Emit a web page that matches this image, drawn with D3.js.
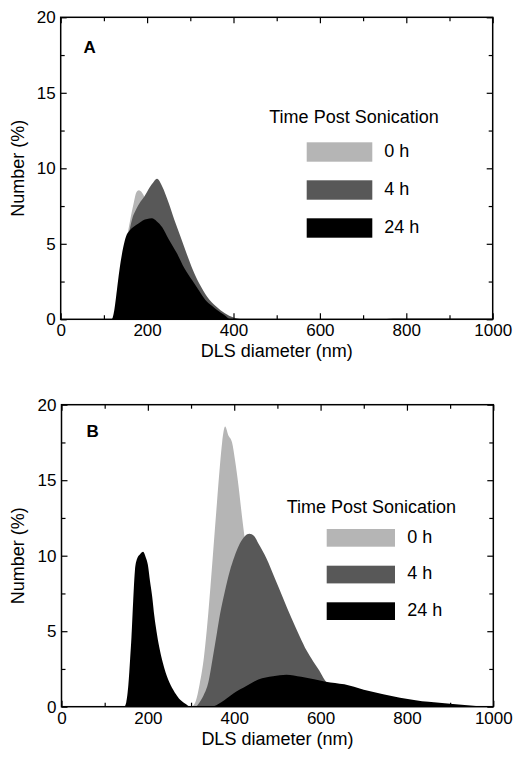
<!DOCTYPE html>
<html>
<head>
<meta charset="utf-8">
<script src="https://cdn.jsdelivr.net/npm/d3@7"></script>
<style>
  html, body { margin: 0; padding: 0; background: #fff; }
  svg { display: block; }
  text { font-family: "Liberation Sans", Arial, Helvetica, sans-serif; fill: #000; }
</style>
</head>
<body>
<svg id="chart" width="522" height="761"></svg>
<script>
// ---------------- DATA ----------------
const xMajorTicks = [0, 200, 400, 600, 800, 1000];
const xMinorTicks = [100, 300, 500, 700, 900];
const yMajorTicks = [0, 5, 10, 15, 20];
const yMinorTicks = [2.5, 7.5, 12.5, 17.5];
const seriesNames = ["0 h", "4 h", "24 h"];
const seriesColors = ["#b5b5b5", "#585858", "#000000"];
const legendTitle = "Time Post Sonication";
const xTitle = "DLS diameter (nm)";
const yTitle = "Number (%)";
const panelLabels = ["A", "B"];

// Panel A: [diameter nm, number %]
const panelA_0h = [[0,0],[120,0],[130,0.8],[140,3.3],[150,4.9],[161,6.6],[169,7.7],[175,8.4],[181,8.55],[188,8.4],[194,8.1],[205,7.5],[220,6.5],[240,5.0],[260,3.5],[280,2.2],[300,1.3],[330,0.5],[360,0.15],[400,0],[750,0],[770,0.08],[1000,0.08]];
const panelA_4h = [[0,0],[125,0],[135,0.8],[145,3.0],[155,5.2],[165,6.6],[175,7.3],[185,7.8],[194,8.15],[205,8.7],[215,9.1],[223,9.3],[235,8.8],[250,7.7],[263,6.6],[277,5.5],[292,4.3],[306,3.26],[322,2.3],[339,1.5],[360,0.85],[380,0.4],[400,0.12],[425,0],[1000,0]];
const panelA_24h = [[0,0],[118,0],[124,0.6],[130,1.9],[136,3.26],[145,4.8],[151,5.47],[160,5.9],[169,6.13],[180,6.35],[190,6.55],[200,6.65],[211,6.69],[222,6.5],[235,6.1],[250,5.3],[269,4.37],[286,3.4],[304,2.6],[320,1.9],[335,1.28],[350,0.9],[362,0.62],[378,0.3],[393,0],[1000,0]];

// Panel B
const panelB_0h = [[0,0],[300,0],[310,0.3],[320,1.5],[330,3.3],[340,6.2],[350,9.8],[360,13.5],[367,16.0],[372,17.5],[379,18.55],[386,18.0],[395,17.5],[402,16.3],[410,14.6],[418,12.6],[425,11.0],[440,7.5],[460,4],[480,1.5],[500,0.3],[520,0],[1000,0]];
const panelB_4h = [[0,0],[310,0],[320,0.3],[330,0.8],[340,1.6],[350,3.2],[360,4.9],[367,6.1],[378,7.6],[390,9.0],[400,9.9],[413,10.8],[425,11.3],[435,11.45],[446,11.3],[456,10.8],[475,9.8],[494,8.5],[513,7.2],[532,5.9],[552,4.64],[568,3.7],[583,3.0],[597,2.4],[610,1.75],[620,1.4],[640,0.8],[665,0.25],[690,0],[1000,0]];
const panelB_24h = [[0,0],[145,0],[150,0.3],[155,1.5],[159,3.2],[162,4.6],[166,7.0],[170,9.0],[175,9.8],[182,10.1],[189,10.26],[195,9.9],[200,9.4],[205,8.3],[210,7.3],[215,6.0],[220,5.0],[226,4.0],[235,2.87],[247,1.8],[259,1.1],[272,0.55],[286,0.22],[300,0],[347,0],[370,0.3],[398,0.88],[430,1.4],[456,1.8],[490,2.02],[521,2.12],[555,1.98],[585,1.82],[612,1.66],[655,1.48],[700,1.12],[745,0.82],[784,0.6],[820,0.43],[850,0.32],[900,0.2],[940,0.1],[980,0.02],[1000,0]];

// ---------------- LAYOUT ----------------
const panels = [
  { label: panelLabels[0], series: [panelA_0h, panelA_4h, panelA_24h],
    left: 60.7, right: 492.7, top: 17.3, bottom: 319.3,
    labelPos: [83.5, 52.7],
    legend: { titleX: 269.3, titleY: 123.3, boxX: 306.7, boxW: 65.6, boxH: 19.4, boxTops: [142.3, 180.3, 218.3], textX: 384.3, textDy: 14.4 },
    xTitleY: 357 },
  { label: panelLabels[1], series: [panelB_0h, panelB_4h, panelB_24h],
    left: 61.5, right: 493.3, top: 404.7, bottom: 706.7,
    labelPos: [86.5, 436.7],
    legend: { titleX: 286.7, titleY: 512.7, boxX: 326.7, boxW: 68.3, boxH: 17.7, boxTops: [529, 565.7, 602.3], textX: 407.3, textDy: 13.5 },
    xTitleY: 745 }
];

const svg = d3.select("#chart");

panels.forEach(p => {
  const x = d3.scaleLinear().domain([0, 1000]).range([p.left, p.right]);
  const y = d3.scaleLinear().domain([0, 20]).range([p.bottom, p.top]);
  const g = svg.append("g");

  const area = d3.area()
    .x(d => x(d[0]))
    .y0(y(0))
    .y1(d => y(d[1]))
    .curve(d3.curveMonotoneX);

  p.series.forEach((s, i) => {
    g.append("path").datum(s).attr("d", area).attr("fill", seriesColors[i]).attr("stroke", "none");
  });

  // Axes (inward ticks, mirrored)
  const bottomMajor = d3.axisBottom(x).tickValues(xMajorTicks).tickSizeInner(-6).tickSizeOuter(0).tickPadding(5).tickFormat(d3.format("d"));
  const bottomMinor = d3.axisBottom(x).tickValues(xMinorTicks).tickSizeInner(-4).tickSizeOuter(0).tickFormat("");
  const topMajor = d3.axisTop(x).tickValues(xMajorTicks).tickSizeInner(-6).tickSizeOuter(0).tickFormat("");
  const topMinor = d3.axisTop(x).tickValues(xMinorTicks).tickSizeInner(-4).tickSizeOuter(0).tickFormat("");
  const leftMajor = d3.axisLeft(y).tickValues(yMajorTicks).tickSizeInner(-6).tickSizeOuter(0).tickPadding(5).tickFormat(d3.format("d"));
  const leftMinor = d3.axisLeft(y).tickValues(yMinorTicks).tickSizeInner(-4).tickSizeOuter(0).tickFormat("");
  const rightMajor = d3.axisRight(y).tickValues(yMajorTicks).tickSizeInner(-6).tickSizeOuter(0).tickFormat("");
  const rightMinor = d3.axisRight(y).tickValues(yMinorTicks).tickSizeInner(-4).tickSizeOuter(0).tickFormat("");

  const axes = [
    [bottomMajor, `translate(0,${p.bottom})`], [bottomMinor, `translate(0,${p.bottom})`],
    [topMajor, `translate(0,${p.top})`], [topMinor, `translate(0,${p.top})`],
    [leftMajor, `translate(${p.left},0)`], [leftMinor, `translate(${p.left},0)`],
    [rightMajor, `translate(${p.right},0)`], [rightMinor, `translate(${p.right},0)`]
  ];
  axes.forEach(([ax, tr]) => {
    const a = g.append("g").attr("transform", tr).call(ax);
    a.select(".domain").remove();
    a.selectAll(".tick line").attr("stroke", "#000").attr("stroke-width", 1.2);
    a.selectAll(".tick text").attr("font-size", 17).attr("font-family", "'Liberation Sans', Arial, sans-serif").attr("fill", "#000");
  });

  // Frame
  g.append("rect")
    .attr("x", p.left).attr("y", p.top)
    .attr("width", p.right - p.left).attr("height", p.bottom - p.top)
    .attr("fill", "none").attr("stroke", "#000").attr("stroke-width", 1.5);

  // Panel letter
  g.append("text").attr("x", p.labelPos[0]).attr("y", p.labelPos[1])
    .attr("font-size", 17).attr("font-weight", "bold").text(p.label);

  // Axis titles
  g.append("text").attr("x", (p.left + p.right) / 2).attr("y", p.xTitleY)
    .attr("text-anchor", "middle").attr("font-size", 18).text(xTitle);
  g.append("text")
    .attr("transform", `translate(24,${(p.top + p.bottom) / 2}) rotate(-90)`)
    .attr("text-anchor", "middle").attr("font-size", 18).text(yTitle);

  // Legend
  const L = p.legend;
  g.append("text").attr("x", L.titleX).attr("y", L.titleY).attr("font-size", 18).text(legendTitle);
  seriesNames.forEach((name, i) => {
    g.append("rect").attr("x", L.boxX).attr("y", L.boxTops[i])
      .attr("width", L.boxW).attr("height", L.boxH).attr("fill", seriesColors[i]);
    g.append("text").attr("x", L.textX).attr("y", L.boxTops[i] + L.textDy)
      .attr("font-size", 18).text(name);
  });
});
</script>
</body>
</html>
